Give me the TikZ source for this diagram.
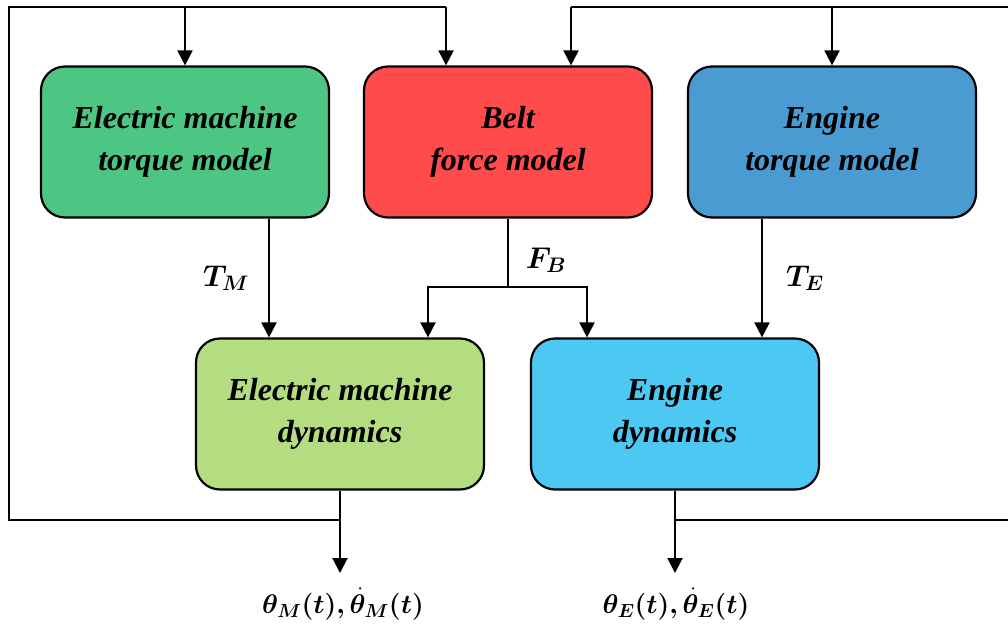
\RequirePackage{fix-cm}
\documentclass[tikz,border=0pt]{standalone}
\usepackage{fontspec}
\setmainfont{Liberation Serif}
\usepackage{amsmath,bm}
\usetikzlibrary{arrows.meta,calc}

\definecolor{emtorque}{HTML}{4DC683}
\definecolor{beltred}{HTML}{FF4B4B}
\definecolor{engtorque}{HTML}{4A9BD2}
\definecolor{emdyn}{HTML}{B3DD80}
\definecolor{engdyn}{HTML}{4DC8F2}

\begin{document}
\begin{tikzpicture}[x=1pt,y=-1pt,
  block/.style={draw=black, line width=2.2pt, rounded corners=24pt,
    minimum width=288pt, minimum height=151pt, inner sep=0pt, align=center,
    font=\fontsize{32}{42}\selectfont\bfseries\itshape},
  link/.style={line width=2pt, -{Triangle[width=15pt,length=15pt]}},
  wire/.style={line width=1.6pt},
  sig/.style={inner sep=0pt, font=\fontsize{30}{36}\selectfont},
  outsig/.style={inner sep=0pt, font=\fontsize{27}{34}\selectfont}]
\useasboundingbox (0,0) rectangle (1008,624);

% model blocks
\node[block, fill=emtorque]  (emt)  at (185,142) {Electric machine\\torque model};
\node[block, fill=beltred]   (belt) at (508,142) {Belt\\force model};
\node[block, fill=engtorque] (et)   at (832,142) {Engine\\torque model};
\node[block, fill=emdyn]     (emd)  at (340,414) {Electric machine\\dynamics};
\node[block, fill=engdyn]    (ed)   at (675,414) {Engine\\dynamics};

% outputs
\node[outsig, anchor=north] (thM) at (343,588) {$\bm{\theta_M(t),\dot{\theta}_M(t)}$};
\node[outsig, anchor=north] (thE) at (676,588) {$\bm{\theta_E(t),\dot{\theta}_E(t)}$};

% torques into the dynamics blocks
\draw[link] ([xshift=84pt]emt.south) -- ([xshift=84pt]emt.south |- emd.north);
\node[sig] (tm) at (226,278) {$\bm{T_M}$};
\draw[link] ([xshift=-70pt]et.south) -- ([xshift=-70pt]et.south |- ed.north);
\node[sig] (te) at (805,278) {$\bm{T_E}$};

% belt force split
\coordinate (fb) at ([yshift=-68pt]belt.south);
\draw[wire] (belt.south) -- (fb);
\draw[link] (fb) -| ([xshift=88pt]emd.north);
\draw[link] (fb) -| ([xshift=-88pt]ed.north);
\node[sig] (fbl) at (546,260) {$\bm{F_B}$};

% state outputs
\draw[link] (emd.south) -- ([yshift=15pt]thM.north -| emd.south);
\draw[link] (ed.south) -- ([yshift=15pt]thE.north -| ed.south);

% feedback of the electric machine states
\coordinate (lb) at (emd.south |- 0,520);
\coordinate (lbl) at (9,520);
\coordinate (ltl) at (9,7);
\coordinate (ltr) at ([xshift=-62pt]belt.north |- 0,7);
\draw[wire] (lb) -- (lbl) -- (ltl) -- (ltr);
\draw[link] (emt.north |- ltl) -- (emt.north);
\draw[link] (ltr) -- (ltr |- belt.north);

% feedback of the engine states
\coordinate (rb) at (ed.south |- 0,520);
\coordinate (rbr) at (1014,520);
\coordinate (rtr) at (1014,7);
\coordinate (rtl) at ([xshift=63pt]belt.north |- 0,7);
\draw[wire] (rb) -- (rbr) -- (rtr) -- (rtl);
\draw[link] (rtl) -- (rtl |- belt.north);
\draw[link] (et.north |- rtr) -- (et.north);
\end{tikzpicture}
\end{document}
